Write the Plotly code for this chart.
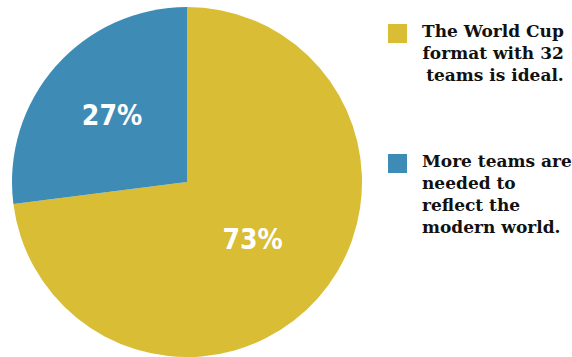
import plotly.graph_objects as go

labels = ["The World Cup<br>format with 32<br>teams is ideal.",
          "More teams are<br>needed to<br>reflect the<br>modern world."]
values = [73, 27]
colors = ["#D8BD35", "#3E8CB6"]

W, H = 572, 357

fig = go.Figure()
fig.add_trace(go.Pie(
    labels=labels, values=values, sort=False, direction="clockwise", rotation=0,
    marker=dict(colors=colors, line=dict(width=0)),
    texttemplate="<b>%{percent:.0%}</b>", textposition="inside",
    insidetextfont=dict(family="DejaVu Sans Condensed, Liberation Sans Narrow, Roboto, sans-serif",
                        size=28, color="white"),
    domain=dict(x=[12/W, 362/W], y=[0, 350/H]),
    showlegend=False, hoverinfo="label+percent",
))

legend_y = [24, 154]
align = ["right", "left"]
for i, (lab, col) in enumerate(zip(labels, colors)):
    y0 = legend_y[i]
    fig.add_shape(type="rect", xref="paper", yref="paper",
                  x0=388/W, x1=407/W, y0=1-(y0+19)/H, y1=1-y0/H,
                  fillcolor=col, line=dict(width=0))
    fig.add_annotation(text=lab, xref="paper", yref="paper",
                       x=(566/W if i == 0 else 420/W), xanchor=("right" if i == 0 else "left"),
                       y=1-(y0-5)/H, yanchor="top", align=align[i], showarrow=False,
                       font=dict(family="DejaVu Serif", size=17, color="#111111", weight="bold"))

fig.update_layout(width=W, height=H, margin=dict(l=0, r=0, t=0, b=0),
                  paper_bgcolor="white", plot_bgcolor="white")
fig.write_html("out.html")
